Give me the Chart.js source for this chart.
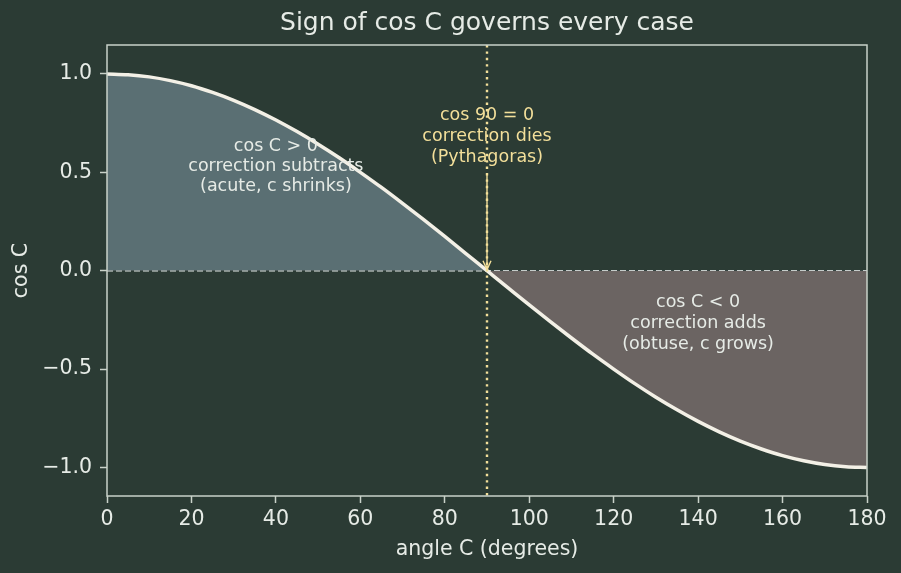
<!DOCTYPE html>
<html>
<head>
<meta charset="utf-8">
<script src="https://cdn.jsdelivr.net/npm/chart.js@4.4.1/dist/chart.umd.min.js"></script>
<style>
  html, body { margin: 0; padding: 0; background: #2b3b34; }
  #wrap { width: 901px; height: 573px; }
</style>
</head>
<body>
<div id="wrap"><canvas id="c" width="901" height="573"></canvas></div>
<script>
// ---- data ----
const angles = [0,5,10,15,20,25,30,35,40,45,50,55,60,65,70,75,80,85,90,
                95,100,105,110,115,120,125,130,135,140,145,150,155,160,165,170,175,180];
const cosValues = [1.000,0.996,0.985,0.966,0.940,0.906,0.866,0.819,0.766,0.707,0.643,0.574,0.500,0.423,0.342,0.259,0.174,0.087,0.000,
                   -0.087,-0.174,-0.259,-0.342,-0.423,-0.500,-0.574,-0.643,-0.707,-0.766,-0.819,-0.866,-0.906,-0.940,-0.966,-0.985,-0.996,-1.000];
const xTicks = [0,20,40,60,80,100,120,140,160,180];
const yTicks = [-1.0,-0.5,0.0,0.5,1.0];
const yTickLabels = ["\u22121.0","\u22120.5","0.0","0.5","1.0"];
const rightAngle = 90;
const arrowStartY = 0.49;
const acuteText = ["cos C > 0","correction subtracts","(acute, c shrinks)"];
const acutePos = {x: 40, y: [0.63, 0.528, 0.426]};
const obtuseText = ["cos C < 0","correction adds","(obtuse, c grows)"];
const obtusePos = {x: 140, y: [-0.162, -0.269, -0.376]};
const pyText = ["cos 90 = 0","correction dies","(Pythagoras)"];
const pyPos = {x: 90, y: [0.787, 0.68, 0.574]};

const BG = '#2b3b34';
const FG = '#e6ebe6';
const SPINE = '#c9d2c9';
const YELLOW = '#f3df9a';
const FONT = "'DejaVu Sans', sans-serif";

const curve = angles.map((a, i) => ({x: a, y: cosValues[i]}));

const bgPlugin = {
  id: 'bg',
  beforeDraw(chart) {
    const ctx = chart.ctx;
    ctx.save();
    ctx.fillStyle = BG;
    ctx.fillRect(0, 0, chart.width, chart.height);
    ctx.restore();
  }
};

const decoPlugin = {
  id: 'deco',
  afterDatasetsDraw(chart) {
    const ctx = chart.ctx;
    const xs = chart.scales.x, ys = chart.scales.y;
    const ca = chart.chartArea;
    ctx.save();
    // vertical dotted line at 90
    const vx = xs.getPixelForValue(rightAngle);
    ctx.strokeStyle = YELLOW;
    ctx.lineWidth = 2.4;
    ctx.setLineDash([2.4, 4]);
    ctx.beginPath();
    ctx.moveTo(vx, ca.top);
    ctx.lineTo(vx, ca.bottom);
    ctx.stroke();
    ctx.setLineDash([]);
    // arrow
    const y0 = ys.getPixelForValue(arrowStartY);
    const y1 = ys.getPixelForValue(0);
    ctx.strokeStyle = YELLOW;
    ctx.lineWidth = 1.4;
    ctx.beginPath();
    ctx.moveTo(vx, y0);
    ctx.lineTo(vx, y1 - 1);
    ctx.moveTo(vx - 4, y1 - 10);
    ctx.lineTo(vx, y1 - 1);
    ctx.lineTo(vx + 4, y1 - 10);
    ctx.stroke();
    // texts
    ctx.font = "17.5px " + FONT;
    ctx.textAlign = 'center';
    ctx.textBaseline = 'middle';
    ctx.fillStyle = FG;
    acuteText.forEach((t, i) => ctx.fillText(t, xs.getPixelForValue(acutePos.x), ys.getPixelForValue(acutePos.y[i])));
    obtuseText.forEach((t, i) => ctx.fillText(t, xs.getPixelForValue(obtusePos.x), ys.getPixelForValue(obtusePos.y[i])));
    ctx.fillStyle = YELLOW;
    pyText.forEach((t, i) => ctx.fillText(t, xs.getPixelForValue(pyPos.x), ys.getPixelForValue(pyPos.y[i])));
    ctx.restore();
  },
  afterDraw(chart) {
    const ctx = chart.ctx;
    const ca = chart.chartArea;
    ctx.save();
    ctx.strokeStyle = SPINE;
    ctx.lineWidth = 1.5;
    ctx.strokeRect(ca.left, ca.top, ca.right - ca.left, ca.bottom - ca.top);
    // title
    ctx.fillStyle = FG;
    ctx.font = "25px " + FONT;
    ctx.textAlign = 'center';
    ctx.textBaseline = 'middle';
    ctx.fillText('Sign of cos C governs every case', (ca.left + ca.right) / 2, 23);
    ctx.restore();
  }
};

new Chart(document.getElementById('c'), {
  type: 'line',
  data: {
    datasets: [
      {
        label: 'zero',
        data: [{x: 0, y: 0}, {x: 180, y: 0}],
        borderColor: '#e6ece8',
        borderWidth: 1.5,
        borderDash: [6, 3],
        pointRadius: 0,
        fill: false,
        order: 2
      },
      {
        label: 'cos C',
        data: curve,
        borderColor: '#f3f0e6',
        borderWidth: 3.5,
        pointRadius: 0,
        cubicInterpolationMode: 'monotone',
        fill: {target: {value: 0}, above: 'rgb(90,111,115)', below: 'rgb(107,100,98)'},
        order: 1
      }
    ]
  },
  options: {
    responsive: false,
    animation: false,
    devicePixelRatio: 1,
    layout: {padding: {left: 0, right: 34, top: 45, bottom: 0}},
    plugins: {legend: {display: false}, tooltip: {enabled: false}, title: {display: false}},
    scales: {
      x: {
        type: 'linear',
        min: 0, max: 180,
        afterBuildTicks(s) { s.ticks = xTicks.map(v => ({value: v})); },
        afterFit(s) { s.height = 77; },
        grid: {display: true, drawOnChartArea: false, drawTicks: true, tickLength: 7, tickColor: SPINE, tickWidth: 1.5},
        border: {display: false},
        ticks: {color: FG, font: {family: FONT, size: 20.5}, padding: 4, maxRotation: 0},
        title: {display: true, text: 'angle C (degrees)', color: FG, font: {family: FONT, size: 20.5}, padding: {top: 4, bottom: 11}}
      },
      y: {
        min: -1.145, max: 1.147,
        afterBuildTicks(s) { s.ticks = yTicks.map(v => ({value: v})); },
        afterFit(s) { s.width = 107; },
        grid: {display: true, drawOnChartArea: false, drawTicks: true, tickLength: 7, tickColor: SPINE, tickWidth: 1.5},
        border: {display: false},
        ticks: {color: FG, font: {family: FONT, size: 20.5}, padding: 8,
          callback(v) { const i = yTicks.indexOf(v); return i >= 0 ? yTickLabels[i] : ''; }},
        title: {display: true, text: 'cos C', color: FG, font: {family: FONT, size: 20.5}, padding: {top: 9.5, bottom: 4}}
      }
    }
  },
  plugins: [bgPlugin, decoPlugin]
});
</script>
</body>
</html>
